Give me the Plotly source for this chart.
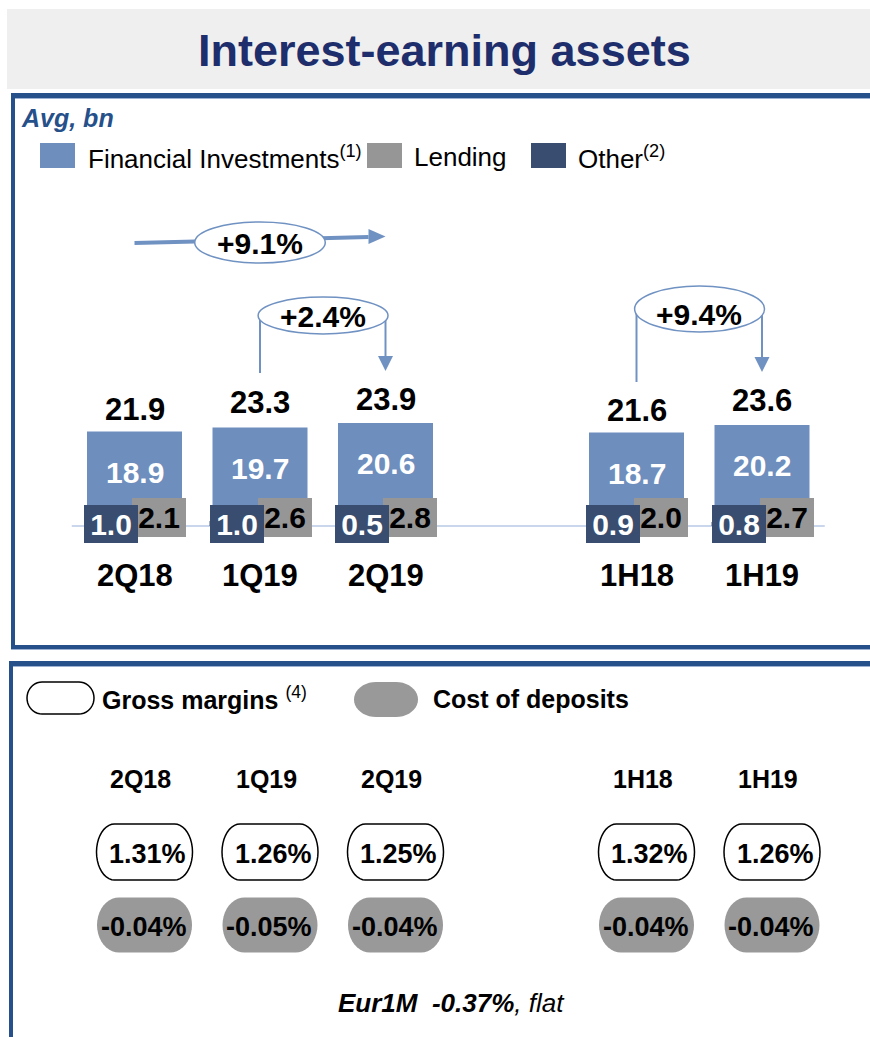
import math
import plotly.graph_objects as go

# ---------------- data ----------------
quarters = ["2Q18", "1Q19", "2Q19"]
halves = ["1H18", "1H19"]
periods = quarters + halves
series_names = ["Financial Investments", "Lending", "Other"]
financial = [18.9, 19.7, 20.6, 18.7, 20.2]
lending = [2.1, 2.6, 2.8, 2.0, 2.7]
other = [1.0, 1.0, 0.5, 0.9, 0.8]
totals = [21.9, 23.3, 23.9, 21.6, 23.6]
growth_yoy_q = "+9.1%"
growth_qoq = "+2.4%"
growth_h = "+9.4%"
gross_margins = [1.31, 1.26, 1.25, 1.32, 1.26]
cost_of_deposits = [-0.04, -0.05, -0.04, -0.04, -0.04]
eur1m = -0.37

# ---------------- styles ----------------
W, H = 870, 1037
FONT = "Liberation Sans, Arial, sans-serif"
C_FIN = "#6E8EBE"
C_LEND = "#969696"
C_OTH = "#384D6F"
C_NAVY = "#1E2D6B"
C_BORDER = "#25508A"
C_STRIPE = "#9DB2D3"
C_ARROW = "#7092C2"
C_BASE = "#B8C9E6"

cat_order = quarters + [" "] + halves


def px(x):
    return x / W


def py(y):
    return 1 - y / H


def pill_path(w, h, rx, dx=0.0, dy=0.0, n=20):
    ry = h / 2
    a = w / 2 - rx
    pts = []
    for k in range(n + 1):
        t = math.pi / 2 - math.pi * k / n
        pts.append((dx + a + rx * math.cos(t), dy + ry * math.sin(t)))
    for k in range(n + 1):
        t = -math.pi / 2 - math.pi * k / n
        pts.append((dx - a + rx * math.cos(t), dy + ry * math.sin(t)))
    return "M " + " L ".join(f"{x:.2f},{y:.2f}" for x, y in pts) + " Z"


fig = go.Figure()

# bars
fig.add_trace(go.Bar(x=periods, y=financial, name=series_names[0], marker_color=C_FIN,
                     marker_line_width=0, width=0.757, hoverinfo="skip"))
fig.add_trace(go.Bar(x=periods, y=lending, name=series_names[1], marker_color=C_LEND,
                     marker_line_width=0, width=0.43, offset=-0.02, hoverinfo="skip"))
fig.add_trace(go.Bar(x=periods, y=other, name=series_names[2], marker_color=C_OTH,
                     marker_line_width=0, width=0.43, offset=-0.402, hoverinfo="skip"))

shapes = []
ann = []

# ---- frame / title band ----
shapes.append(dict(type="rect", xref="paper", yref="paper", x0=px(7), x1=px(870), y0=py(89), y1=py(9),
                   fillcolor="#EFEFEF", line_width=0, layer="below"))
# panel 1
shapes.append(dict(type="line", xref="paper", yref="paper", x0=px(11), x1=px(870), y0=py(95.5), y1=py(95.5),
                   line=dict(color=C_BORDER, width=5)))
shapes.append(dict(type="line", xref="paper", yref="paper", x0=px(15), x1=px(870), y0=py(98.5), y1=py(98.5),
                   line=dict(color=C_STRIPE, width=1)))
shapes.append(dict(type="line", xref="paper", yref="paper", x0=px(13), x1=px(13), y0=py(93), y1=py(649),
                   line=dict(color=C_BORDER, width=4)))
shapes.append(dict(type="line", xref="paper", yref="paper", x0=px(11), x1=px(870), y0=py(647), y1=py(647),
                   line=dict(color=C_BORDER, width=4)))
shapes.append(dict(type="line", xref="paper", yref="paper", x0=px(11), x1=px(870), y0=py(649.5), y1=py(649.5),
                   line=dict(color=C_STRIPE, width=1)))
# panel 2
shapes.append(dict(type="line", xref="paper", yref="paper", x0=px(9), x1=px(870), y0=py(663.5), y1=py(663.5),
                   line=dict(color=C_BORDER, width=5)))
shapes.append(dict(type="line", xref="paper", yref="paper", x0=px(13), x1=px(870), y0=py(666.5), y1=py(666.5),
                   line=dict(color=C_STRIPE, width=1)))
shapes.append(dict(type="line", xref="paper", yref="paper", x0=px(11), x1=px(11), y0=py(661), y1=py(1037),
                   line=dict(color=C_BORDER, width=4)))

# baseline
shapes.append(dict(type="line", xref="x", yref="y", x0=-0.5, x1=5.5, y0=0, y1=0,
                   line=dict(color=C_BASE, width=1.5), layer="below"))

ann.append(dict(xref="paper", yref="paper", x=px(444.5), y=py(50), text="<b>Interest-earning assets</b>",
                showarrow=False, font=dict(family=FONT, size=45, color=C_NAVY)))
ann.append(dict(xref="paper", yref="paper", x=px(19), y=py(118), xanchor="left", text="<b><i>Avg, bn</i></b>",
                showarrow=False, font=dict(family=FONT, size=25, color=C_BORDER)))

# ---- top legend ----
leg_items = [
    (series_names[0] + "<sup>(1)</sup>", C_FIN, 40, 88),
    (series_names[1], C_LEND, 367, 414),
    (series_names[2] + "<sup>(2)</sup>", C_OTH, 531, 578),
]
for text, col, sx, tx in leg_items:
    shapes.append(dict(type="rect", xref="paper", yref="paper", x0=px(sx), x1=px(sx + 35), y0=py(168), y1=py(143),
                       fillcolor=col, line_width=0))
    ann.append(dict(xref="paper", yref="paper", x=px(tx - 2), y=py(157), xanchor="left", text=text,
                    showarrow=False, font=dict(family=FONT, size=26, color="black")))

# ---- growth arrows ----
i1 = cat_order.index("1Q19")
# +9.1%
shapes.append(dict(type="line", xref="x", yref="paper", x0="2Q18", x1="2Q19", x1shift=-0.135,
                   y0=py(243), y1=py(237), line=dict(color=C_ARROW, width=4)))
shapes.append(dict(type="path", xref="x", yref="paper", xsizemode="pixel", ysizemode="pixel",
                   xanchor="2Q19", yanchor=py(236.5), path="M -17,7.5 L 0,0 L -17,-7.5 Z",
                   fillcolor=C_ARROW, line_width=0))
shapes.append(dict(type="circle", xref="x", yref="paper", x0=i1 - 0.52, x1=i1 + 0.52, y0=py(263), y1=py(222),
                   fillcolor="white", line=dict(color=C_ARROW, width=1.5)))
ann.append(dict(xref="x", yref="paper", x="1Q19", y=py(243), text=f"<b>{growth_yoy_q}</b>", showarrow=False,
                font=dict(family=FONT, size=30, color="black")))


def loop_arrow(a, b, top, bottom_a, tip_b, label, ycenter, ytext):
    shapes.append(dict(type="line", xref="x", yref="paper", x0=a, x1=a, y0=py(ycenter), y1=py(bottom_a),
                       line=dict(color=C_ARROW, width=2)))
    shapes.append(dict(type="line", xref="x", yref="paper", x0=b, x1=b, y0=py(ycenter), y1=py(tip_b - 15),
                       line=dict(color=C_ARROW, width=2)))
    shapes.append(dict(type="path", xref="x", yref="paper", xsizemode="pixel", ysizemode="pixel",
                       xanchor=b, yanchor=py(tip_b - 15), path="M -7.5,0 L 7.5,0 L 0,-15 Z",
                       fillcolor=C_ARROW, line_width=0))
    shapes.append(dict(type="circle", xref="x", yref="paper", x0=a, x1=b, x0shift=-0.015, x1shift=0.02,
                       y0=py(2 * ycenter - top), y1=py(top),
                       fillcolor="white", line=dict(color=C_ARROW, width=1.5)))
    mid = (cat_order.index(a) + cat_order.index(b)) / 2
    ann.append(dict(xref="x", yref="paper", x=mid, y=py(ytext), text=f"<b>{label}</b>", showarrow=False,
                    font=dict(family=FONT, size=30, color="black")))


loop_arrow("1Q19", "2Q19", 297, 373, 371, growth_qoq, 315.5, 316)
loop_arrow("1H18", "1H19", 286, 382, 372, growth_h, 309, 314)

# ---- bar labels ----
for i, cat in enumerate(periods):
    ann.append(dict(xref="x", yref="y", x=cat, y=totals[i], yshift=7, text=f"<b>{totals[i]:.1f}</b>",
                    showarrow=False, font=dict(family=FONT, size=31, color="black")))
    ann.append(dict(xref="x", yref="y", x=cat, y=financial[i], yshift=-41, text=f"<b>{financial[i]:.1f}</b>",
                    showarrow=False, font=dict(family=FONT, size=30, color="white")))
    ann.append(dict(xref="x", yref="y", x=cat, y=0, xshift=24.5, yshift=8.5, width=54, height=39,
                    bgcolor=C_LEND, borderpad=0, borderwidth=0, text=f"<b>{lending[i]:.1f}</b>",
                    showarrow=False, font=dict(family=FONT, size=30, color="black")))
    ann.append(dict(xref="x", yref="y", x=cat, y=0, xshift=-23.5, yshift=2, width=54, height=38,
                    bgcolor=C_OTH, borderpad=0, borderwidth=0, text=f"<b>{other[i]:.1f}</b>",
                    showarrow=False, font=dict(family=FONT, size=30, color="white")))
    ann.append(dict(xref="x", yref="y", x=cat, y=0, yshift=-49, text=f"<b>{cat}</b>",
                    showarrow=False, font=dict(family=FONT, size=31, color="black")))

# ---- lower panel ----
shapes.append(dict(type="path", xref="paper", yref="paper", xsizemode="pixel", ysizemode="pixel",
                   xanchor=px(60.5), yanchor=py(698), path=pill_path(67, 32, 15),
                   fillcolor="white", line=dict(color="black", width=1.5)))
shapes.append(dict(type="path", xref="paper", yref="paper", xsizemode="pixel", ysizemode="pixel",
                   xanchor=px(386), yanchor=py(699.5), path=pill_path(64, 35, 22),
                   fillcolor="#999999", line_width=0))
ann.append(dict(xref="paper", yref="paper", x=px(100), y=py(698), xanchor="left",
                text="<b>Gross margins</b> <sup>(4)</sup>", showarrow=False,
                font=dict(family=FONT, size=25, color="black")))
ann.append(dict(xref="paper", yref="paper", x=px(431), y=py(699), xanchor="left",
                text="<b>Cost of deposits</b>", showarrow=False,
                font=dict(family=FONT, size=25, color="black")))

for i, cat in enumerate(periods):
    ann.append(dict(xref="x", yref="paper", x=cat, xshift=6, y=py(779), text=f"<b>{cat}</b>",
                    showarrow=False, font=dict(family=FONT, size=25, color="black")))
    shapes.append(dict(type="path", xref="x", yref="paper", xsizemode="pixel", ysizemode="pixel",
                       xanchor=cat, yanchor=py(852), path=pill_path(96, 56, 18, dx=10),
                       fillcolor="white", line=dict(color="black", width=1.5)))
    shapes.append(dict(type="path", xref="x", yref="paper", xsizemode="pixel", ysizemode="pixel",
                       xanchor=cat, yanchor=py(925), path=pill_path(95, 55, 22, dx=10),
                       fillcolor="#999999", line_width=0))
    ann.append(dict(xref="x", yref="paper", x=cat, xshift=13, y=py(854), text=f"<b>{gross_margins[i]:.2f}%</b>",
                    showarrow=False, font=dict(family=FONT, size=27, color="black")))
    ann.append(dict(xref="x", yref="paper", x=cat, xshift=9, y=py(927), text=f"<b>{cost_of_deposits[i]:.2f}%</b>",
                    showarrow=False, font=dict(family=FONT, size=27, color="black")))

ann.append(dict(xref="paper", yref="paper", x=px(452), y=py(1003),
                text=f"<b><i>Eur1M\u00a0 {eur1m:.2f}%</i></b><i>, flat</i>", showarrow=False,
                font=dict(family=FONT, size=26, color="black")))

for a in ann:
    a.setdefault("xanchor", "center")
    a.setdefault("yanchor", "middle")

slot = 125.5
x_left = 134.5 - 0.6 * slot
x_right = 134.5 + 5.6 * slot

fig.update_layout(
    width=W, height=H,
    margin=dict(l=0, r=0, t=0, b=0),
    paper_bgcolor="white", plot_bgcolor="rgba(0,0,0,0)",
    showlegend=False, barmode="overlay",
    font=dict(family=FONT),
    xaxis=dict(type="category", categoryorder="array", categoryarray=cat_order,
               range=[-0.6, 5.6], domain=[px(x_left), px(x_right)],
               showticklabels=False, showgrid=False, zeroline=False, showline=False, ticks="",
               fixedrange=True),
    yaxis=dict(range=[-4, 80], domain=[py(546), py(126)], visible=False, fixedrange=True),
    shapes=shapes,
    annotations=ann,
)

fig.write_html("out.html", config={"displayModeBar": False},
               post_script="document.body.style.margin='0';document.body.style.padding='0';")
